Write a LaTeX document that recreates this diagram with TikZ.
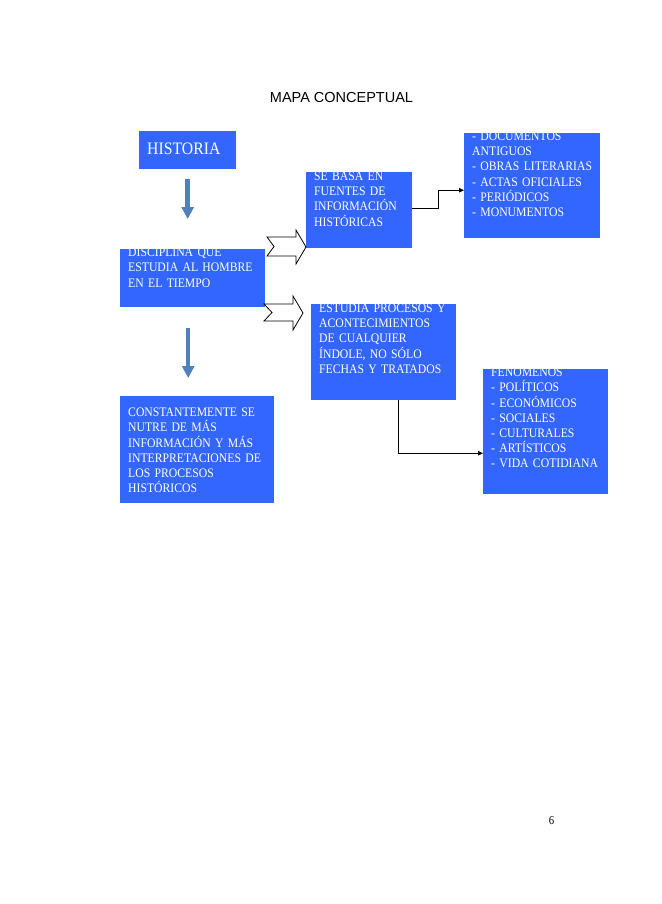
\documentclass[tikz,border=0pt]{standalone}
\usepackage{fontspec}
\setmainfont{Liberation Serif}
\newfontfamily\cajafont{Liberation Serif}[FakeStretch=0.9]
\newfontfamily\titulofont{Liberation Sans}
\usetikzlibrary{arrows.meta,positioning}
\definecolor{azulcaja}{RGB}{51,102,255}
\definecolor{azulflecha}{RGB}{79,129,189}

\begin{document}
\begin{tikzpicture}[x=1pt,y=-1pt,
  caja/.style={fill=azulcaja,anchor=north west,inner sep=0pt},
  texto/.style={anchor=base west,inner sep=0pt,text=white,align=left,text width=170pt,font=\cajafont\fontsize{13}{15.2}\selectfont},
  flecha/.style={azulflecha,line width=4.5pt,-{Triangle[width=12pt,length=12pt]}},
  conector/.style={line width=0.9pt,-{Triangle[width=4.5pt,length=5pt]}},
  bloque/.style={draw=black,fill=white,line width=0.8pt,line join=miter}]
\fill[white] (0,0) rectangle (638,904);
\node[font=\titulofont\fontsize{14.5}{17}\selectfont] (titulo) at (341.5,97.7) {MAPA CONCEPTUAL};

% cajas
\node[caja,minimum width=97,minimum height=38] (hist) at (139,131) {};
\node[caja,minimum width=145,minimum height=58] (disc) at (120,249) {};
\node[caja,minimum width=106,minimum height=76] (sebasa) at (306,172) {};
\node[caja,minimum width=136,minimum height=105] (docs) at (464,133) {};
\node[caja,minimum width=145,minimum height=96] (estudia) at (311,304) {};
\node[caja,minimum width=125,minimum height=125] (fenom) at (483,369) {};
\node[caja,minimum width=154,minimum height=107] (const) at (120,396) {};

% textos
\node[texto,font=\cajafont\fontsize{17.5}{20}\selectfont] (thist) at ([shift={(8,24)}]hist.north west) {HISTORIA};
\node[texto] (tdisc) at ([shift={(8,7.7)}]disc.north west) {DISCIPLINA QUE\\ESTUDIA AL HOMBRE\\EN EL TIEMPO};
\node[texto] (tsebasa) at ([shift={(8,8.5)}]sebasa.north west) {SE BASA EN\\FUENTES DE\\INFORMACIÓN\\HISTÓRICAS};
\node[texto] (tdocs) at ([shift={(8,7.5)}]docs.north west) {- DOCUMENTOS\\ANTIGUOS\\- OBRAS LITERARIAS\\- ACTAS OFICIALES\\- PERIÓDICOS\\- MONUMENTOS};
\node[texto] (testudia) at ([shift={(8,8.5)}]estudia.north west) {ESTUDIA PROCESOS Y\\ACONTECIMIENTOS\\DE CUALQUIER\\ÍNDOLE, NO SÓLO\\FECHAS Y TRATADOS};
\node[texto] (tfenom) at ([shift={(8,7.7)}]fenom.north west) {FENÓMENOS\\- POLÍTICOS\\- ECONÓMICOS\\- SOCIALES\\- CULTURALES\\- ARTÍSTICOS\\- VIDA COTIDIANA};
\node[texto] (tconst) at ([shift={(8,20.7)}]const.north west) {CONSTANTEMENTE SE\\NUTRE DE MÁS\\INFORMACIÓN Y MÁS\\INTERPRETACIONES DE\\LOS PROCESOS\\HISTÓRICOS};

% flechas
\draw[flecha] ([yshift=-10pt]hist.south) -- ([yshift=30pt]hist.south |- disc.north);
\draw[flecha] ([shift={(-4.5,21)}]disc.south) -- ([shift={(-4.5,-18)}]disc.south |- const.north);
\draw[bloque] (267,237) -- (296,237) -- (296,230) -- (306,247) -- (296,264) -- (296,256) -- (267,256) -- (274,246.5) -- cycle;
\draw[bloque] (264,304) -- (293,304) -- (293,296) -- (303,313) -- (293,330) -- (293,321) -- (264,321) -- (272,312.5) -- cycle;
\draw[conector] ([yshift=2pt]sebasa.east) -- ++(26,0) |- ([yshift=-4.5pt]docs.west);
\draw[conector] ([xshift=14.5pt]estudia.south) |- ([yshift=-21.5pt]fenom.west);

\node[font=\cajafont\fontsize{12}{14}\selectfont] (pagina) at (551.5,821) {6};
\end{tikzpicture}
\end{document}
